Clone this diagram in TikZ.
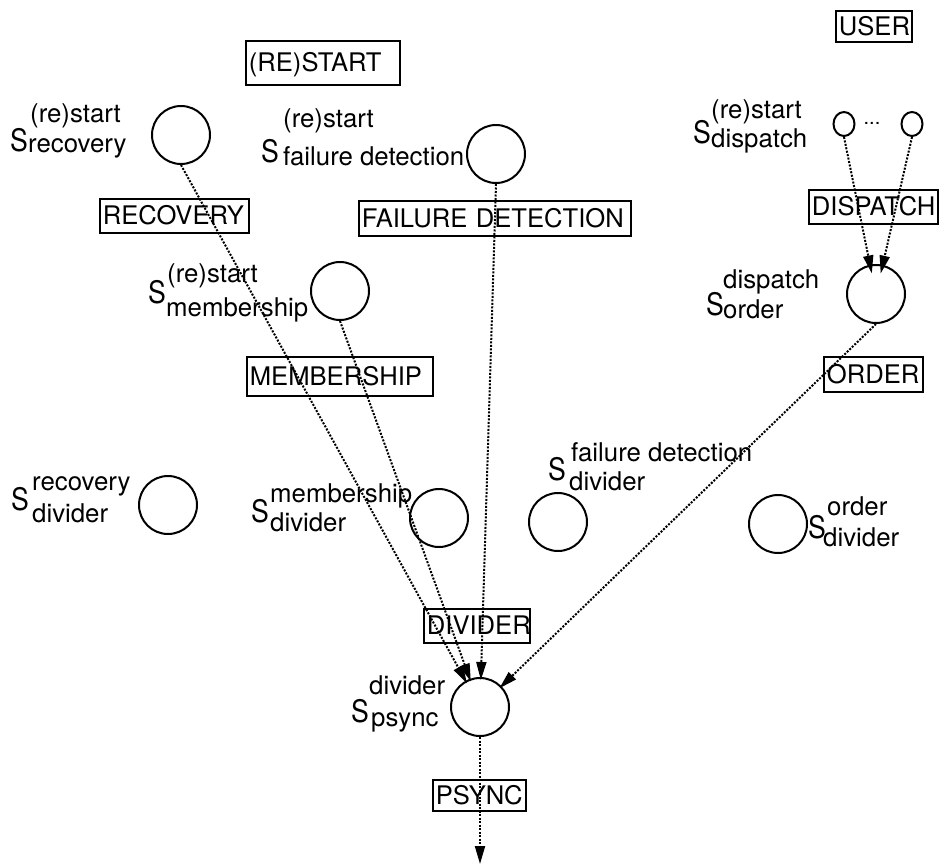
\documentclass[tikz,border=0pt]{standalone}
\usepackage{fontspec}
\setmainfont{TeX Gyre Heros}
\usetikzlibrary{arrows.meta,shapes.geometric}
\newcommand{\bigS}{\scalebox{0.86}[1]{S}}
\tikzset{
  bigs/.style={font=\fontsize{31}{36}\selectfont, anchor=base west, inner sep=0pt},
  idx/.style={font=\fontsize{25.8}{30}\selectfont, anchor=base west, inner sep=0pt},
  lbl/.style={draw, line width=1.8pt, anchor=north west, inner xsep=3pt, inner ysep=0pt,
    align=left, text height=18pt, text depth=0pt, font=\fontsize{25.6}{30}\selectfont},
  st/.style={circle, draw, line width=2pt, minimum size=58pt, inner sep=0pt},
  sm/.style={ellipse, draw, line width=2pt, minimum width=21pt, minimum height=24pt, inner sep=0pt},
  flow/.style={line width=2pt, dash pattern=on 2pt off 1.5pt,
    -{Triangle[length=18pt 0 0,width=10pt 0 0]}},
}
\begin{document}
\begin{tikzpicture}[x=1pt,y=-1pt]
\useasboundingbox (0,0) rectangle (945,865);

% boxes
\node[lbl, text width=148pt, minimum height=44pt] (brs) at (245,40) {(RE)START};
\node[lbl, text width=70pt, minimum height=31pt] (bus) at (835,10) {USER};
\node[lbl, text width=143pt, minimum height=34pt] (brc) at (99,198) {RECOVERY};
\node[lbl, text width=266pt, minimum height=35pt] (bfd) at (358,200) {FAILURE DETECTION};
\node[lbl, text width=180pt, minimum height=39pt] (bmb) at (246,356) {MEMBERSHIP};
\node[lbl, text width=123pt, minimum height=34pt] (bdp) at (808,189) {DISPATCH};
\node[lbl, text width=93pt, minimum height=35pt] (bor) at (823,356) {ORDER};
\node[lbl, text width=100pt, minimum height=34pt] (bdv) at (423,608) {DIVIDER};
\node[lbl, text width=87pt, minimum height=31pt] (bps) at (432,779) {PSYNC};

% states
\node[st] (A) at (181,135) {};
\node[st] (B) at (496,154) {};
\node[st] (C) at (340,291) {};
\node[sm] (D1) at (844,124) {};
\node[sm] (D2) at (912,124) {};
\node[font=\fontsize{20}{24}\selectfont, anchor=base, inner sep=0pt] (dots) at (872,124) {...};
\node[st] (E) at (876,294) {};
\node[st] (F) at (168,505) {};
\node[st] (G) at (439,518) {};
\node[st] (H) at (558,522) {};
\node[st] (I) at (778,524) {};
\node[st] (P) at (480,707) {};

% state labels
\node[bigs] (sA) at (10,151) {\bigS};
\node[idx] (supA) at (30,122) {(re)start};
\node[idx] (subA) at (28,152) {recovery};

\node[bigs] (sB) at (261,162) {\bigS};
\node[idx] (supB) at (283,127) {(re)start};
\node[idx] (subB) at (283,165) {failure detection};

\node[bigs] (sC) at (148,303) {\bigS};
\node[idx] (supC) at (167,282) {(re)start};
\node[idx] (subC) at (166,316) {membership};

\node[bigs] (sD) at (693,143) {\bigS};
\node[idx] (supD) at (711,118) {(re)start};
\node[idx] (subD) at (711,147) {dispatch};

\node[bigs] (sE) at (706,315) {\bigS};
\node[idx] (supE) at (723,288) {dispatch};
\node[idx] (subE) at (723,318) {order};

\node[bigs] (sF) at (11,510) {\bigS};
\node[idx] (supF) at (32,490) {recovery};
\node[idx] (subF) at (32,522) {divider};

\node[bigs] (sG) at (251,522) {\bigS};
\node[idx] (supG) at (270,502) {membership};
\node[idx] (subG) at (270,531) {divider};

\node[bigs] (sH) at (548,480) {\bigS};
\node[idx] (supH) at (571,461) {failure detection};
\node[idx] (subH) at (569,490) {divider};

\node[bigs] (sI) at (808,538) {\bigS};
\node[idx] (supI) at (827,515) {order};
\node[idx] (subI) at (823,546) {divider};

\node[bigs] (sP) at (351,722) {\bigS};
\node[idx] (supP) at (369,694) {divider};
\node[idx] (subP) at (371,726) {psync};

% connectors
\coordinate (out) at (480,864);
\draw[flow, shorten >=-3pt] (A.south) -- (P);
\draw[flow, shorten >=-3pt] (C.south) -- (P);
\draw[flow, shorten >=-3pt] (B.south) -- (P);
\draw[flow, shorten >=-3pt] (E.south) -- (P);
\draw[flow, shorten >=-9pt] (D1.south) -- (E);
\draw[flow, shorten >=-9pt] (D2.south) -- (E);
\draw[flow] (P.south) -- (out);
\end{tikzpicture}
\end{document}
